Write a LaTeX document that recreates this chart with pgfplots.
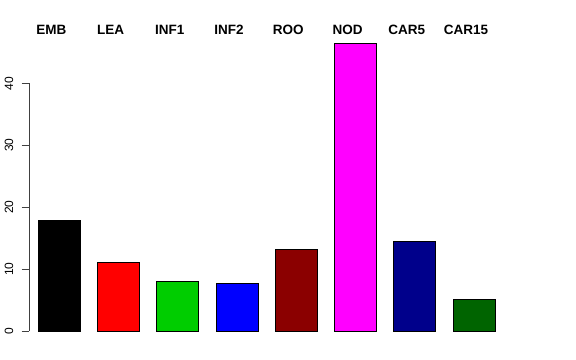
\documentclass[border=0pt]{standalone}
\usepackage{fontspec}
\setmainfont{Liberation Sans}
\usepackage{pgfplots}
\pgfplotsset{compat=1.18}
\definecolor{rgreen}{HTML}{00CD00}
\definecolor{rdarkred}{HTML}{8B0000}
\definecolor{rmagenta}{HTML}{FF00FF}
\definecolor{rdarkblue}{HTML}{00008B}
\definecolor{rdarkgreen}{HTML}{006400}
\begin{document}
\begin{tikzpicture}
\path[use as bounding box] (0,0) rectangle (576bp,360bp);
\begin{axis}[
  at={(29.3bp,29bp)}, anchor=south west,
  scale only axis, width=474.4bp, height=290.9bp,
  xmin=-0.506, xmax=7.5, ymin=0, ymax=47,
  clip=false,
  hide x axis,
  axis y line=left,
  y axis line style={draw=none,-},
  ytick={0,10,20,30,40},
  yticklabels={0,10,20,30,40},
  /pgf/number format/assume math mode=true,
  tick align=outside,
  major tick length=7.7bp,
  ytick style={draw=black!75, line width=0.9bp},
  yticklabel shift=8.5bp,
  yticklabel style={rotate=90, anchor=base, inner sep=0pt, font=\fontsize{12bp}{14bp}\selectfont},
]
\addplot[ybar, bar width=0.709, fill=black, draw=black, line width=0.8bp] coordinates {(0,17.9)};
\addplot[ybar, bar width=0.709, fill=red, draw=black, line width=0.8bp] coordinates {(1,11.05)};
\addplot[ybar, bar width=0.709, fill=rgreen, draw=black, line width=0.8bp] coordinates {(2,8.05)};
\addplot[ybar, bar width=0.709, fill=blue, draw=black, line width=0.8bp] coordinates {(3,7.7)};
\addplot[ybar, bar width=0.709, fill=rdarkred, draw=black, line width=0.8bp] coordinates {(4,13.2)};
\addplot[ybar, bar width=0.709, fill=rmagenta, draw=black, line width=0.8bp] coordinates {(5,46.5)};
\addplot[ybar, bar width=0.709, fill=rdarkblue, draw=black, line width=0.8bp] coordinates {(6,14.5)};
\addplot[ybar, bar width=0.709, fill=rdarkgreen, draw=black, line width=0.8bp] coordinates {(7,5.1)};
\draw[black!75, line width=0.9bp] (axis cs:-0.506,0) -- (axis cs:-0.506,40);
\begin{scope}[every node/.style={anchor=base, inner sep=0pt, font=\fontsize{13.5bp}{15bp}\selectfont\bfseries}]
\node at (axis cs:-0.135,47.98) {EMB};
\node at (axis cs:0.865,47.98) {LEA};
\node at (axis cs:1.865,47.98) {INF1};
\node at (axis cs:2.865,47.98) {INF2};
\node at (axis cs:3.865,47.98) {ROO};
\node at (axis cs:4.865,47.98) {NOD};
\node at (axis cs:5.865,47.98) {CAR5};
\node at (axis cs:6.865,47.98) {CAR15};
\end{scope}
\end{axis}
\end{tikzpicture}
\end{document}
